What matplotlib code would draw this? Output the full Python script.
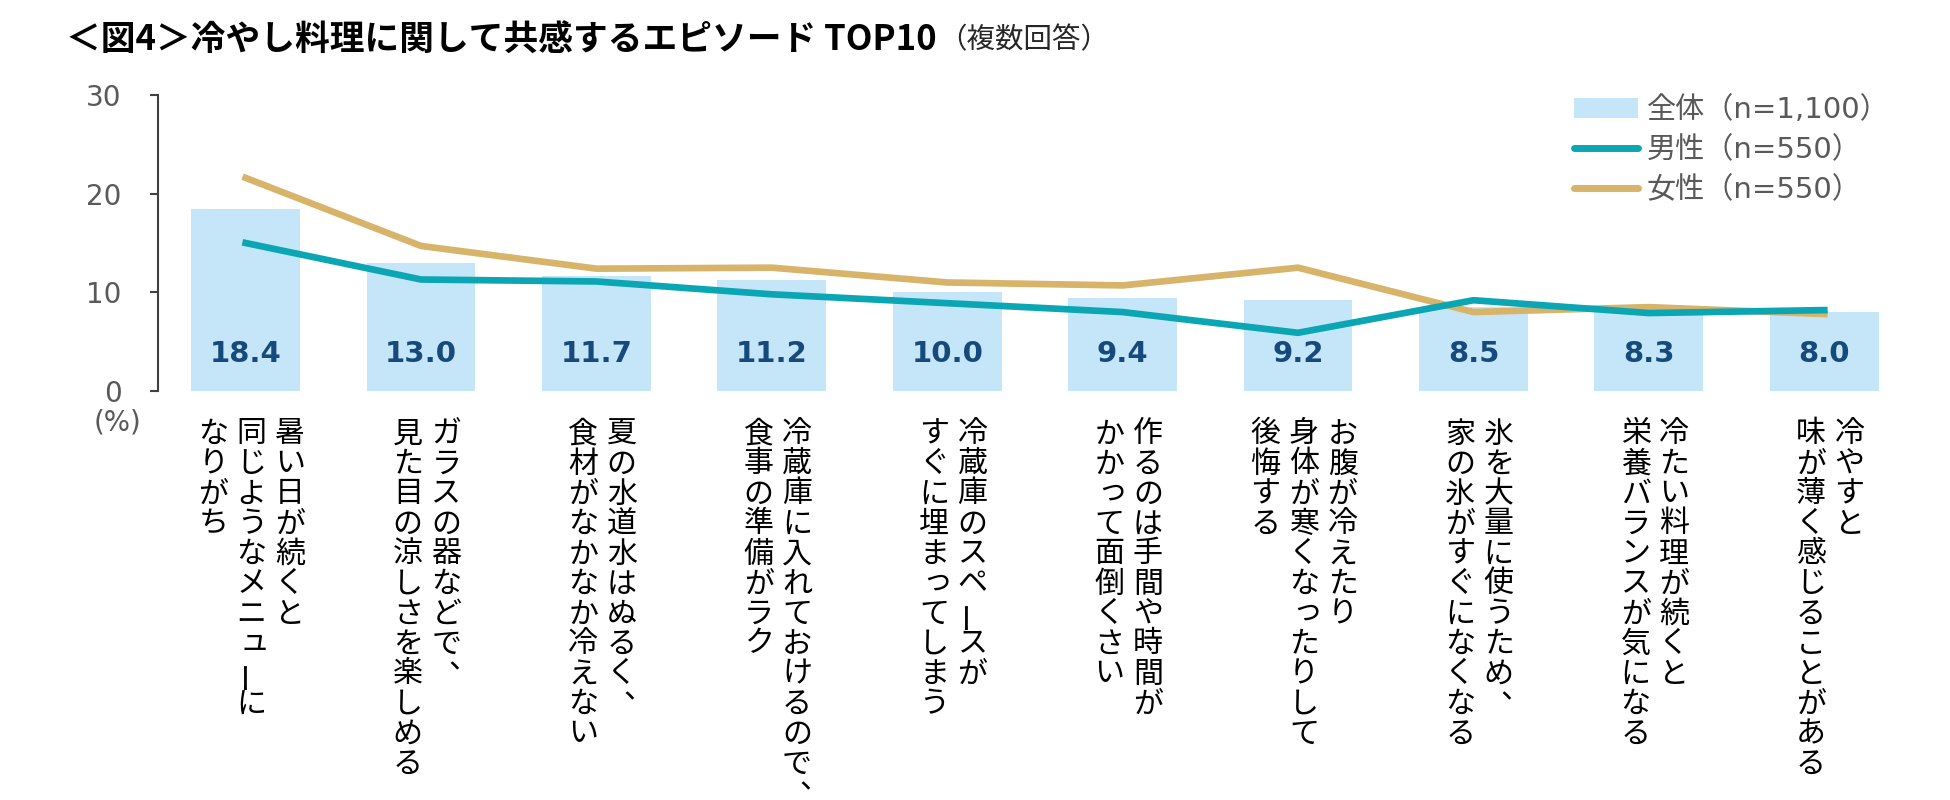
import matplotlib
matplotlib.use("Agg")
import matplotlib.pyplot as plt
from matplotlib.patches import Patch
from matplotlib.lines import Line2D

plt.rcParams['font.family'] = ['Noto Sans CJK JP', 'DejaVu Sans']

# data (%, multiple answers)
labels = [
    ["暑い日が続くと", "同じようなメニューに", "なりがち"],
    ["ガラスの器などで、", "見た目の涼しさを楽しめる"],
    ["夏の水道水はぬるく、", "食材がなかなか冷えない"],
    ["冷蔵庫に入れておけるので、", "食事の準備がラク"],
    ["冷蔵庫のスペースが", "すぐに埋まってしまう"],
    ["作るのは手間や時間が", "かかって面倒くさい"],
    ["お腹が冷えたり", "身体が寒くなったりして", "後悔する"],
    ["氷を大量に使うため、", "家の氷がすぐになくなる"],
    ["冷たい料理が続くと", "栄養バランスが気になる"],
    ["冷やすと", "味が薄く感じることがある"],
]
total = [18.4, 13.0, 11.7, 11.2, 10.0, 9.4, 9.2, 8.5, 8.3, 8.0]
male = [15.0, 11.3, 11.1, 9.8, 8.9, 8.0, 5.9, 9.2, 7.9, 8.2]
female = [21.6, 14.7, 12.4, 12.5, 11.0, 10.7, 12.5, 8.0, 8.5, 7.8]
series_names = ["全体（n=1,100）", "男性（n=550）", "女性（n=550）"]
yticks = [0, 10, 20, 30]

BAR = "#C5E6F8"
MALE = "#0AA6B4"
FEMALE = "#D8B46B"
NAVY = "#174A7C"
GREY = "#595959"

fig = plt.figure(figsize=(19.5, 8), dpi=100)
ax = fig.add_axes([0.081, 0.51125, 0.8995, 0.37])

x = list(range(len(total)))
ax.bar(x, total, width=0.62, color=BAR, zorder=1)
ax.plot(x, male, color=MALE, lw=4.8, zorder=3)
ax.plot(x, female, color=FEMALE, lw=4.8, zorder=2)

for xi, v in zip(x, total):
    ax.text(xi, 3.8, f"{v:.1f}", ha="center", va="center", fontsize=21,
            fontweight="bold", color=NAVY, family="DejaVu Sans", zorder=4)

ax.set_xlim(-0.5, len(total) - 0.5)
ax.set_ylim(0, 30)
ax.set_yticks(yticks, labels=[str(t) for t in yticks], fontsize=20,
              family="DejaVu Sans", color=GREY)
ax.set_xticks([])
for s in ["top", "right", "bottom"]:
    ax.spines[s].set_visible(False)
ax.spines["left"].set_color("#404040")
ax.spines["left"].set_linewidth(1.5)
ax.tick_params(axis="y", length=6, width=1.5, color="#404040", pad=20)

fig.text(117 / 1950, 1 - 422 / 800, "(%)", ha="center", va="center",
         fontsize=20, color=GREY, family="DejaVu Sans")

# vertical (tategaki) category labels, columns right to left
EM = 30
COLGAP = 38.5
small = set("ゃゅょっャュョッァィゥェォぁぃぅぇぉ")
for xi, cols in zip(x, labels):
    n = len(cols)
    for j, col in enumerate(cols):
        dx = ((n - 1) / 2 - j) * COLGAP + 6
        for k, ch in enumerate(col):
            dy = -(28 + EM / 2 + k * EM)
            rot = 0
            if ch == "、":
                ox, oy = 17, 14
            elif ch in small:
                ox, oy = 3, 3
            elif ch == "ー":
                ox, oy, rot = -5, 0, 90
            else:
                ox, oy = 0, 0
            ax.annotate(ch, xy=(xi, 0), xycoords="data",
                        xytext=(dx + ox, dy + oy), textcoords="offset pixels",
                        ha="center", va="center", fontsize=21.6, rotation=rot,
                        color="black", annotation_clip=False)

# legend
handles = [
    Patch(facecolor=BAR, edgecolor="none"),
    Line2D([], [], color=MALE, lw=5, solid_capstyle="round"),
    Line2D([], [], color=FEMALE, lw=5, solid_capstyle="round"),
]
leg = fig.legend(handles, series_names, loc="upper left",
                 bbox_to_anchor=(1574 / 1950, 1 - 96 / 800), frameon=False,
                 borderpad=0, borderaxespad=0, handlelength=2.2,
                 handletextpad=0.3, labelspacing=0.42,
                 prop={"family": ["DejaVu Sans", "Noto Sans CJK JP"], "size": 21})
for t in leg.get_texts():
    t.set_color(GREY)

# title
title = fig.text(66 / 1950, 1 - 40 / 800, "＜図4＞冷やし料理に関して共感するエピソード TOP10",
                 ha="left", va="center", fontsize=25, fontweight="bold")
fig.canvas.draw()
ax.annotate("（複数回答）", xy=(1, 0.5), xycoords=title, xytext=(2, 0),
            textcoords="offset pixels", ha="left", va="center", fontsize=20.5,
            color="#262626", annotation_clip=False)

fig.savefig("out.png", dpi=100)
